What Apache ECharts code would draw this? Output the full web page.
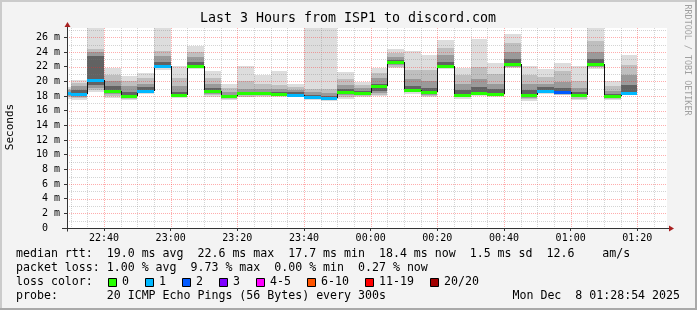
<!DOCTYPE html>
<html><head><meta charset="utf-8">
<script src="https://cdn.jsdelivr.net/npm/echarts@6/dist/echarts.min.js"></script>
<style>html,body{margin:0;padding:0;background:#f3f3f3}#c{width:697px;height:310px}</style>
</head><body><div id="c"></div>
<script>
// ---- data (ms) ----
const barStart = ['22:25','22:30','22:35','22:40','22:45','22:50','22:55','23:00','23:05','23:10','23:15','23:20','23:25','23:30','23:35','23:40','23:45','23:50','23:55','00:00','00:05','00:10','00:15','00:20','00:25','00:30','00:35','00:40','00:45','00:50','00:55','01:00','01:05','01:10','01:15'];
const minMs  = [17.6,17.45,18.5,17.7,17.4,18.3,21.6,17.7,21.7,17.9,17.5,17.8,17.9,17.8,17.8,17.45,17.3,17.6,17.9,18.0,21.8,18.3,17.8,21.7,17.6,18.0,17.9,21.8,17.3,18.3,18.1,17.4,21.7,17.45,18.3];
const p3Ms   = [17.8,17.7,18.8,18.0,17.6,18.4,21.8,17.85,21.8,18.1,17.65,17.9,18.05,17.95,17.9,17.6,17.45,17.9,18.05,18.2,22.0,18.5,18.0,21.8,17.8,18.15,18.0,21.9,17.55,18.4,18.2,17.6,21.9,17.6,18.35];
const p6Ms   = [18.0,17.9,19.1,18.3,17.8,18.5,21.9,17.95,21.9,18.3,17.75,18.1,18.15,18.05,18.0,17.7,17.55,18.1,18.2,18.4,22.2,18.6,18.2,21.9,17.9,18.25,18.1,22.0,17.75,18.5,18.3,17.8,22.0,17.75,18.38];
const p9Ms   = [18.2,18.1,19.5,18.5,17.9,18.6,22.0,18.05,22.0,18.5,17.85,18.2,18.25,18.15,18.1,17.8,17.65,18.3,18.35,18.7,22.4,18.7,18.4,22.0,18.0,18.35,18.2,22.2,17.95,18.6,18.4,18.0,22.1,17.9,18.4];
const medianMs = [18.35,18.25,20.2,18.7,18.0,18.7,22.1,18.15,22.1,18.7,17.95,18.35,18.35,18.25,18.2,17.9,17.75,18.6,18.45,19.35,22.65,18.8,18.6,22.15,18.15,18.45,18.3,22.4,18.15,18.7,18.5,18.15,22.3,18.0,18.45];
const p12Ms  = [18.5,18.8,23.5,19.3,18.6,19.2,22.6,18.6,22.6,19.1,18.2,18.6,18.6,18.5,18.5,18.2,18.0,18.9,18.7,19.7,22.9,19.4,19.1,22.7,18.8,19.2,18.9,23.0,18.8,19.2,19.1,18.5,23.0,18.3,19.5];
const p15Ms  = [18.8,19.3,24.0,20.1,19.3,19.7,23.4,19.4,23.3,19.7,18.6,19.0,19.0,18.9,18.8,18.6,18.4,19.5,19.1,20.4,23.3,20.3,20.0,23.6,19.6,20.3,19.6,24.0,19.6,19.7,19.9,19.1,24.0,18.7,20.8];
const p18Ms  = [19.0,19.8,24.4,20.9,20.0,20.4,24.2,20.5,24.0,20.5,19.1,20.0,19.6,19.5,19.2,19.0,18.9,20.3,19.5,21.2,23.8,21.6,21.5,24.5,20.8,22.0,21.0,25.2,20.9,20.6,21.4,20.0,25.5,19.3,22.2];
const maxMs  = [19.2,20.2,28.5,21.8,20.7,21.2,28.5,22.1,24.8,21.4,19.6,22.1,20.9,21.4,19.7,28.5,28.5,21.3,19.95,21.8,24.4,24.1,23.6,25.6,21.8,25.8,22.5,26.5,22.1,21.7,22.5,22.1,28.0,20.0,23.6];
const lostPings = [1,1,1,0,0,1,1,0,0,0,0,0,0,0,1,1,1,0,0,0,0,0,0,0,0,0,0,0,0,1,2,0,0,0,1];

const xTickLabels = ['22:40','23:00','23:20','23:40','00:00','00:20','00:40','01:00','01:20'];
const yTickValues = [0,2,4,6,8,10,12,14,16,18,20,22,24,26];
const lossLegend = [['0','#26ff00'],['1','#00b8ff'],['2','#0059ff'],['3','#7e00ff'],['4-5','#ff00ff'],['6-10','#ff5500'],['11-19','#ff0000'],['20/20','#a10000']];

const statLines = [
  'median rtt:  19.0 ms avg  22.6 ms max  17.7 ms min  18.4 ms now  1.5 ms sd  12.6    am/s',
  'packet loss: 1.00 % avg  9.73 % max  0.00 % min  0.27 % now'
];
const probeText = 'probe:       20 ICMP Echo Pings (56 Bytes) every 300s';
const dateText = 'Mon Dec  8 01:28:54 2025';
const titleText = 'Last 3 Hours from ISP1 to discord.com';

// ---- helpers ----
const MONO = '"DejaVu Sans Mono", monospace';
const toMin = s => { const [h, m] = s.split(':').map(Number); return (h < 12 ? h + 24 : h) * 60 + m - 22 * 60; };
const fmtMin = v => { let t = Math.round(v) + 22 * 60; t = ((t % 1440) + 1440) % 1440; const h = Math.floor(t / 60), m = t % 60; return String(h).padStart(2, '0') + ':' + String(m).padStart(2, '0'); };
const STEP = 5;
const xMin = toMin('22:28') + 54 / 60, xMax = xMin + 180;
const yMax = 27.27;
const lossColor = n => n === 0 ? lossLegend[0][1] : n === 1 ? lossLegend[1][1] : n === 2 ? lossLegend[2][1] : n === 3 ? lossLegend[3][1] : n <= 5 ? lossLegend[4][1] : n <= 10 ? lossLegend[5][1] : n < 20 ? lossLegend[6][1] : lossLegend[7][1];

const G = { left: 67, top: 28, width: 600, height: 200 };

const smokeData = barStart.map((s, i) => [toMin(s), toMin(s) + STEP, minMs[i], p3Ms[i], p6Ms[i], p9Ms[i], p12Ms[i], p15Ms[i], p18Ms[i], maxMs[i]]);
const medData = barStart.map((s, i) => [toMin(s), toMin(s) + STEP, medianMs[i], i > 0 ? medianMs[i - 1] : medianMs[i], lostPings[i]]);

// grid lines: [orient 0=vertical/1=horizontal, value, major?]
const gridData = [];
for (let t = Math.ceil(xMin / STEP) * STEP; t <= xMax; t += STEP) gridData.push([0, t, t % 20 === 0 ? 1 : 0]);
for (let v = 1; v < yMax; v += 1) gridData.push([1, v, v % 2 === 0 ? 1 : 0]);

const smokeCols = ['#dddddd', '#bfbfbf', '#9a9a9a', '#626262'];
const csRect = cs => ({ x: cs.x, y: cs.y, width: cs.width, height: cs.height });

const chart = echarts.init(document.getElementById('c'), null, { renderer: 'canvas' });
chart.setOption({
  backgroundColor: '#f3f3f3',
  animation: false,
  grid: { left: G.left, top: G.top, width: G.width, height: G.height, backgroundColor: '#ffffff', show: true, borderWidth: 0 },
  xAxis: {
    type: 'value', min: xMin, max: xMax,
    axisLine: { show: false },
    splitLine: { show: false },
    axisTick: { show: true, customValues: xTickLabels.map(toMin), length: 3, lineStyle: { color: '#333' } },
    axisLabel: { customValues: xTickLabels.map(toMin), formatter: v => fmtMin(v), fontFamily: MONO, fontSize: 10, color: '#000', margin: 5 }
  },
  yAxis: {
    type: 'value', min: 0, max: yMax,
    axisLine: { show: false },
    splitLine: { show: false },
    axisTick: { show: true, customValues: yTickValues, length: 3, lineStyle: { color: '#333' } },
    axisLabel: { customValues: yTickValues, formatter: v => v === 0 ? '0  ' : v + ' m', fontFamily: MONO, fontSize: 10, color: '#000', margin: 7 }
  },
  series: [
    {
      type: 'custom', name: 'smoke', z: 1, clip: true,
      data: smokeData, encode: { x: [0, 1], y: [2, 9] },
      renderItem: (params, api) => {
        const cs = csRect(params.coordSys);
        const t0 = api.value(0), t1 = api.value(1);
        const pairs = [[2, 9], [3, 8], [4, 7], [5, 6]];
        const children = [];
        pairs.forEach(([a, b], k) => {
          const pa = api.coord([t0, api.value(b)]), pb = api.coord([t1, api.value(a)]);
          const x0 = Math.round(pa[0]), x1 = Math.round(pb[0]);
          const y0 = Math.round(pa[1]), y1 = Math.round(pb[1]);
          const r = echarts.graphic.clipRectByRect({ x: x0, y: y0, width: x1 - x0, height: Math.max(1, y1 - y0) }, cs);
          if (r) children.push({ type: 'rect', shape: r, style: { fill: smokeCols[k] } });
        });
        return { type: 'group', children };
      }
    },
    {
      type: 'custom', name: 'grid', z: 2, silent: true,
      data: gridData,
      renderItem: (params, api) => {
        const cs = params.coordSys;
        const o = api.value(0), v = api.value(1), major = api.value(2);
        const color = major ? 'rgba(255,40,40,0.38)' : 'rgba(120,120,120,0.32)';
        let shape;
        if (o === 0) {
          const x = Math.round(api.coord([v, 0])[0]) + 0.5;
          if (x <= cs.x + 1 || x > cs.x + cs.width) return null;
          shape = { x1: x, y1: cs.y, x2: x, y2: cs.y + cs.height };
        } else {
          const y = Math.round(api.coord([xMin, v])[1]) + 0.5;
          if (y < cs.y) return null;
          shape = { x1: cs.x, y1: y, x2: cs.x + cs.width, y2: y };
        }
        return { type: 'line', shape, style: { stroke: color, lineWidth: 1, lineDash: [1, 1] } };
      }
    },
    {
      type: 'custom', name: 'median', z: 3, clip: true,
      data: medData, encode: { x: [0, 1], y: 2 },
      renderItem: (params, api) => {
        const t0 = api.value(0), t1 = api.value(1), med = api.value(2), prev = api.value(3), loss = api.value(4);
        const a = api.coord([t0, med]), b = api.coord([t1, med]), p = api.coord([t0, prev]);
        const cs = params.coordSys;
        const xa = Math.max(cs.x, Math.round(a[0])), xb = Math.round(b[0]);
        const y = Math.round(a[1]), yp = Math.round(p[1]);
        const children = [];
        if (params.dataIndex > 0) children.push({ type: 'line', shape: { x1: xa + 0.5, y1: yp, x2: xa + 0.5, y2: y }, style: { stroke: '#111', lineWidth: 1 } });
        children.push({ type: 'line', shape: { x1: xa, y1: y + 0.5, x2: xb, y2: y + 0.5 }, style: { stroke: '#111', lineWidth: 1 } });
        children.push({ type: 'rect', shape: { x: xa, y: y - 1, width: xb - xa, height: 3 }, style: { fill: lossColor(loss) } });
        return { type: 'group', children };
      }
    }
  ],
  graphic: (function () {
    const els = [];
    // frame
    els.push({ type: 'rect', shape: { x: 0, y: 0, width: 697, height: 2 }, style: { fill: '#cbcbcb' }, silent: true });
    els.push({ type: 'rect', shape: { x: 0, y: 0, width: 2, height: 310 }, style: { fill: '#cbcbcb' }, silent: true });
    els.push({ type: 'rect', shape: { x: 0, y: 308, width: 697, height: 2 }, style: { fill: '#a9a9a9' }, silent: true });
    els.push({ type: 'rect', shape: { x: 695, y: 0, width: 2, height: 310 }, style: { fill: '#a9a9a9' }, silent: true });
    // axes
    const ax = G.left + 0.5, ay = G.top + G.height + 0.5;
    els.push({ type: 'line', shape: { x1: G.left - 5, y1: ay, x2: G.left + G.width + 3, y2: ay }, style: { stroke: '#333', lineWidth: 1 }, z: 10 });
    els.push({ type: 'line', shape: { x1: ax, y1: ay + 3, x2: ax, y2: G.top - 2 }, style: { stroke: '#333', lineWidth: 1 }, z: 10 });
    els.push({ type: 'polygon', shape: { points: [[G.left + G.width + 7, ay], [G.left + G.width + 2, ay - 3], [G.left + G.width + 2, ay + 3]] }, style: { fill: '#a82020' }, z: 10 });
    els.push({ type: 'polygon', shape: { points: [[ax, G.top - 6], [ax - 3, G.top - 1], [ax + 3, G.top - 1]] }, style: { fill: '#a82020' }, z: 10 });
    // titles
    els.push({ type: 'text', x: 348, y: 19, style: { text: titleText, font: '13.3px ' + MONO, fill: '#000', textAlign: 'center', textVerticalAlign: 'middle' } });
    els.push({ type: 'text', x: 10, y: 127, rotation: Math.PI / 2, style: { text: 'Seconds', font: '11px ' + MONO, fill: '#000', textAlign: 'center', textVerticalAlign: 'middle' } });
    els.push({ type: 'text', x: 687, y: 60, rotation: -Math.PI / 2, style: { text: 'RRDTOOL / TOBI OETIKER', font: '8.4px ' + MONO, fill: '#a0a0a0', textAlign: 'center', textVerticalAlign: 'middle' } });
    // legend lines
    const F = '11.6px ' + MONO, CW = 7;
    statLines.forEach((s, i) => els.push({ type: 'text', x: 16, y: 254 + i * 14, style: { text: s, font: F, fill: '#000', textVerticalAlign: 'middle' } }));
    els.push({ type: 'text', x: 16, y: 282, style: { text: 'loss color:', font: F, fill: '#000', textVerticalAlign: 'middle' } });
    let bx = 108;
    lossLegend.forEach(([lab, col]) => {
      els.push({ type: 'rect', shape: { x: bx + 0.5, y: 278.5, width: 8, height: 8 }, style: { fill: col, stroke: '#000', lineWidth: 1 } });
      els.push({ type: 'text', x: bx + 14, y: 282, style: { text: lab, font: F, fill: '#000', textVerticalAlign: 'middle' } });
      bx += 14 + lab.length * CW + 16;
    });
    els.push({ type: 'text', x: 16, y: 296, style: { text: probeText, font: F, fill: '#000', textVerticalAlign: 'middle' } });
    els.push({ type: 'text', x: 680, y: 296, style: { text: dateText, font: F, fill: '#000', textAlign: 'right', textVerticalAlign: 'middle' } });
    return els;
  })()
});
</script>
</body></html>
